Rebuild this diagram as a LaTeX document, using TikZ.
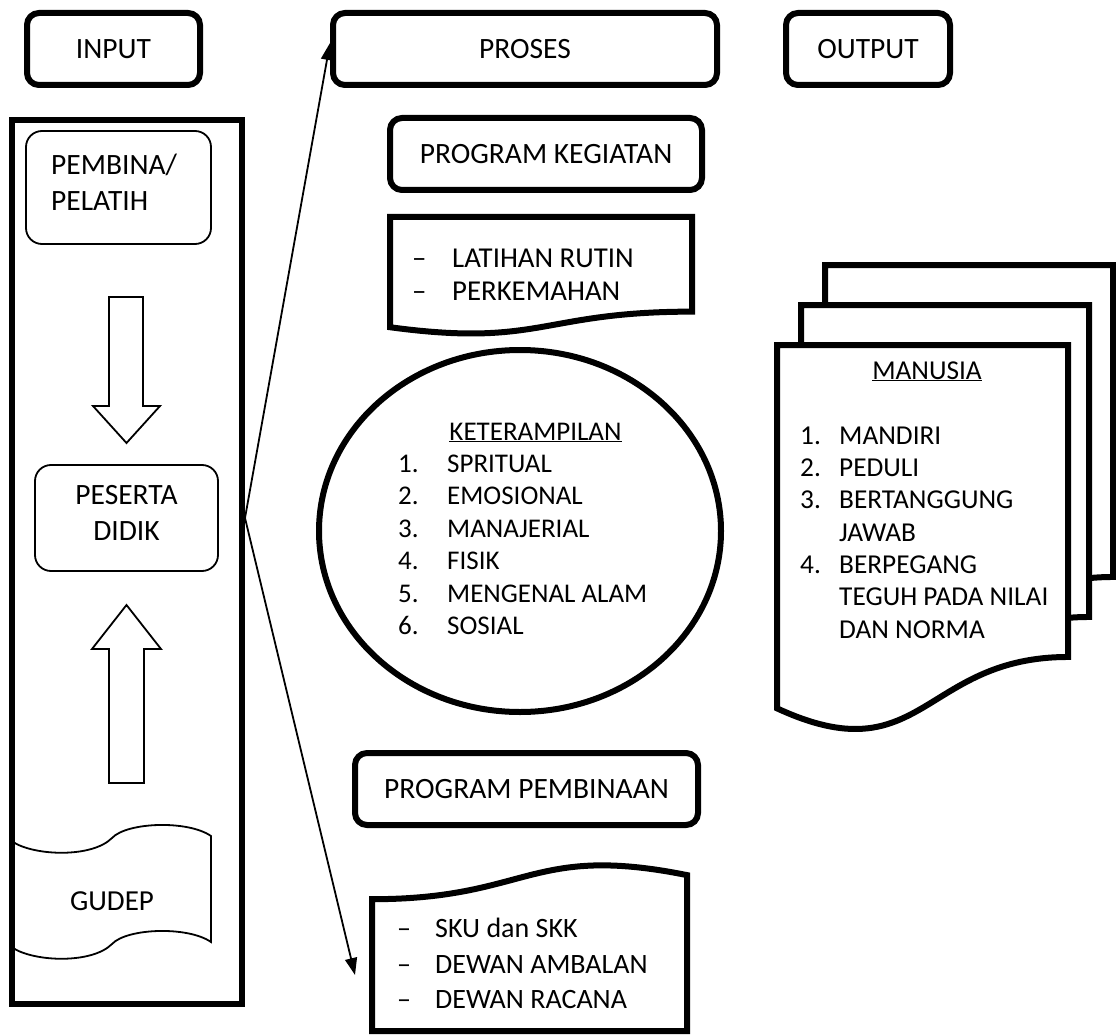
\documentclass[tikz,border=0pt]{standalone}
\usepackage{fontspec}
\setmainfont{Carlito}
\usetikzlibrary{calc,arrows.meta,shapes.geometric}
\def\dokumen[#1](#2,#3)(#4,#5){\draw[#1] (#2,#3) -- ({#2+#4},#3) -- ({#2+#4},{#3+0.802*#5}) .. controls ({#2+0.5*#4},{#3+0.802*#5}) and ({#2+0.5*#4},{#3+1.107*#5}) .. (#2,{#3+0.934*#5}) -- cycle;}

\begin{document}
\begin{tikzpicture}[x=1pt, y=-1pt,
  font=\fontsize{28}{35}\selectfont,
  tebal/.style={line width=6pt},
  tipis/.style={line width=1.8pt},
  kotak/.style={draw, tebal, rounded corners=12pt, minimum height=72pt, inner sep=0pt, font=\fontsize{29.5}{35}\selectfont},
  kotaktipis/.style={draw, tipis, rounded corners=16pt, inner sep=0pt},
  daftar/.style={inner sep=0pt, align=left, anchor=north west},
  panah/.style={tipis, -{Triangle[length=17pt,width=12pt]}}]
		%%%%% START %%%%%
		\useasboundingbox (0,0) rectangle (1116,1035);
		
		% judul
		\node[kotak, minimum width=173pt] (input) at (113.5,49) {INPUT};
		\node[kotak, minimum width=384pt] (proses) at (525,49) {PROSES};
		\node[kotak, minimum width=164pt] (output) at (868,49) {OUTPUT};
		
		% kolom input
		\node[draw, tebal, minimum width=230pt, minimum height=884pt] (masukan) at (127,562) {};
		\node[kotaktipis, minimum width=185pt, minimum height=113pt] (pembina) at (118.5,187.5) {};
		\node[daftar, font=\fontsize{29.5}{36}\selectfont] (pembinateks) at (51,154) {PEMBINA/\\PELATIH};
		\draw[tipis] (109,297) -- (143,297) -- (143,406) -- (160,406) -- (126.5,443) -- (93,406) -- (109,406) -- cycle;
		\node[kotaktipis, minimum width=183pt, minimum height=106pt] (peserta) at (126.5,518) {};
		\node[align=center, font=\fontsize{29.5}{36}\selectfont] (pesertateks) at (126.5,513) {PESERTA\\DIDIK};
		\draw[tipis] (109,783) -- (109,649) -- (92,649) -- (126.5,605) -- (161,649) -- (144,649) -- (144,783) -- cycle;
		\draw[tipis] (13,842) .. controls (35,856) and (92,858) .. (112,838) .. controls (127,822) and (188,820) .. (211,836)
			-- (211,942) .. controls (188,926) and (127,928) .. (112,944) .. controls (92,964) and (35,962) .. (13,948) -- cycle;
		\node[font=\fontsize{29}{35}\selectfont] (gudep) at (112,901) {GUDEP};
		
		% kolom proses
		\node[kotak, minimum width=312pt] (kegiatan) at (546,154) {PROGRAM KEGIATAN};
		\dokumen[tebal](390,217)(302,118)
		\node[daftar, font=\fontsize{28.8}{33}\selectfont] (kegiatanisi) at (412,248.5)
			{\makebox[40pt][l]{–}LATIHAN RUTIN\\\makebox[40pt][l]{–}PERKEMAHAN};
		
		\node[draw, ellipse, tebal, minimum width=402pt, minimum height=362pt] (keterampilan) at (520,531) {};
		\node[anchor=base, font=\fontsize{27}{32}\selectfont] (ketjudul) at (535.5,440) {\underline{KETERAMPILAN}};
		\node[daftar, font=\fontsize{27}{32.5}\selectfont] (ketisi) at (398,454.5)
			{\makebox[49pt][l]{1.}SPRITUAL\\\makebox[49pt][l]{2.}EMOSIONAL\\\makebox[49pt][l]{3.}MANAJERIAL\\
			 \makebox[49pt][l]{4.}FISIK\\\makebox[49pt][l]{5.}MENGENAL ALAM\\\makebox[49pt][l]{6.}SOSIAL};
		
		\node[kotak, minimum width=343pt] (pembinaan) at (526.5,789) {PROGRAM PEMBINAAN};
		\draw[tebal] (372,899.2) .. controls (529.5,899.2) and (529.5,843.4) .. (687,875.1) -- (687,1031) -- (372,1031) -- cycle;
		\node[daftar, font=\fontsize{28}{35.5}\selectfont] (pembinaanisi) at (397,918)
			{\makebox[38pt][l]{–}SKU dan SKK\\\makebox[38pt][l]{–}DEWAN AMBALAN\\\makebox[38pt][l]{–}DEWAN RACANA};
		
		\coordinate (pangkal) at (masukan.east |- peserta.center);
		\coordinate (ujung) at (355,975);
		\draw[panah] (pangkal) -- ($(proses.west)+(0,-6)$);
		\draw[panah] (pangkal) -- (ujung);
		
		% kolom output
		\dokumen[tebal, fill=white](825,265)(288,389)
		\dokumen[tebal, fill=white](801,305)(288,389)
		\dokumen[tebal, fill=white](777,345)(291,389)
		\node[anchor=base, font=\fontsize{27.3}{32}\selectfont] (manusia) at (927,379) {\underline{MANUSIA}};
		\node[daftar, font=\fontsize{27.3}{32.3}\selectfont] (manusiaisi) at (800,426.5)
			{\makebox[39pt][l]{1.}MANDIRI\\\makebox[39pt][l]{2.}PEDULI\\\makebox[39pt][l]{3.}BERTANGGUNG\\
			 \hspace*{39pt}JAWAB\\\makebox[39pt][l]{4.}BERPEGANG\\\hspace*{39pt}TEGUH PADA NILAI\\\hspace*{39pt}DAN NORMA};
		
		%%%%% END %%%%%
\end{tikzpicture}
\end{document}
